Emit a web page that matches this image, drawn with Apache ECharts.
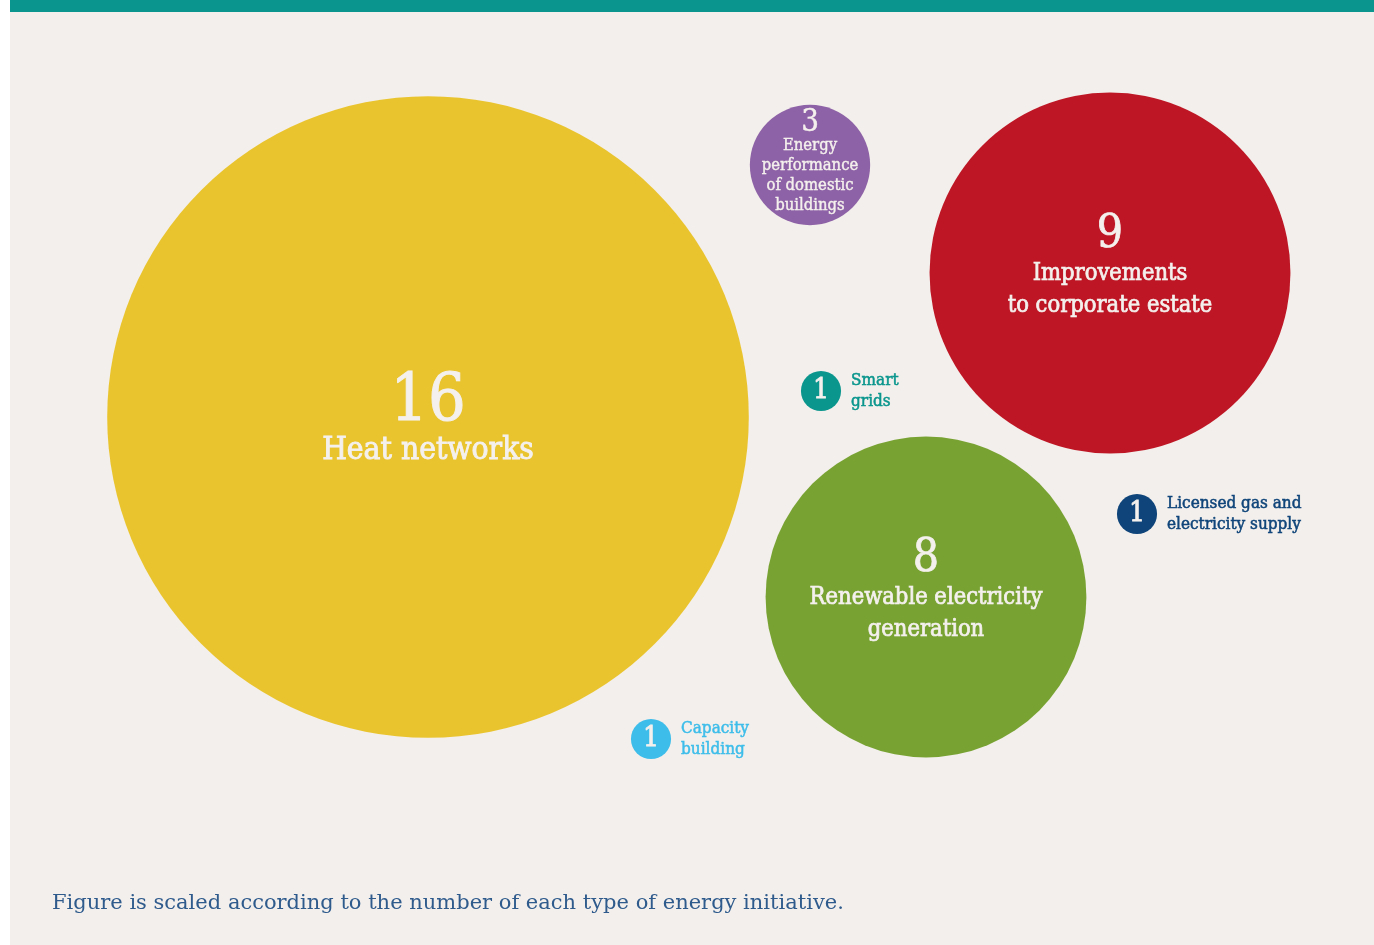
<!DOCTYPE html>
<html>
<head>
<meta charset="utf-8">
<script src="https://cdn.jsdelivr.net/npm/echarts@6/dist/echarts.min.js"></script>
<style>
  html, body { margin: 0; padding: 0; background: #ffffff; }
  #chart { width: 1374px; height: 945px; }
</style>
</head>
<body>
<div id="chart"></div>
<script>
// Energy initiatives by type: bubble radius grows with the count
const categories = [
  'Heat networks',
  'Energy\nperformance\nof domestic\nbuildings',
  'Improvements\nto corporate estate',
  'Smart\ngrids',
  'Renewable electricity\ngeneration',
  'Licensed gas and\nelectricity supply',
  'Capacity\nbuilding'
];
const counts = [16, 3, 9, 1, 8, 1, 1];
// bubble centres in layout units (1 unit = 1 px of the drawing area)
const posX = [428, 810, 1110, 821, 926, 1137, 651];
const posY = [417, 165, 273, 391, 597, 514, 739];
const colors = ['#eac42e', '#8e62a6', '#be1624', '#0a968d', '#78a333', '#0e4479', '#3dbdea'];
const caption = 'Figure is scaled according to the number of each type of energy initiative.';

const FONT = "'DejaVu Serif Condensed', 'DejaVu Serif'";
const FONT_CAPTION = "'DejaVu Serif'";
const LIGHT = '#f4f0ed';
const DIAMETER_PER_UNIT = 40.1;

// Big bubbles get their count and name inside; single-count bubbles get a side label
const big = [], small = [];
counts.forEach((c, i) => {
  const item = { name: categories[i], value: [posX[i], posY[i], c], itemStyle: { color: colors[i], opacity: 1 } };
  if (c >= 3) big.push(item); else small.push(item);
});

function insideStyle(c) {
  if (c >= 16) return { n: 66, t: 31.5, nl: 62, tl: 34, off: 3, sw: 0.9 };
  if (c >= 8) return { n: 46, t: 23.5, nl: 46, tl: 32, off: -6, sw: 0.7 };
  return { n: 31, t: 16.5, nl: 26, tl: 20, off: -2, sw: 0.4 };
}

const chart = echarts.init(document.getElementById('chart'), null, { renderer: 'canvas' });
chart.setOption({
  backgroundColor: '#ffffff',
  animation: false,
  graphic: [
    { type: 'rect', z: -10, shape: { x: 10, y: 0, width: 1364, height: 945 }, style: { fill: '#f3efec' } },
    { type: 'rect', z: -9, shape: { x: 10, y: 0, width: 1364, height: 12 }, style: { fill: '#0a968e' } }
  ],
  title: {
    text: caption,
    left: 47, top: 888,
    textStyle: { fontFamily: FONT_CAPTION, fontSize: 21, fontWeight: 'normal', color: '#2e5a8c' }
  },
  grid: { left: 0, right: 0, top: 0, bottom: 0 },
  xAxis: { type: 'value', min: 0, max: 1374, show: false },
  yAxis: { type: 'value', min: 0, max: 945, inverse: true, show: false },
  series: [
    {
      type: 'scatter',
      symbol: 'circle',
      symbolSize: v => v[2] * DIAMETER_PER_UNIT,
      data: big.map(d => {
        const s = insideStyle(d.value[2]);
        return Object.assign({}, d, {
          label: {
            show: true,
            position: 'inside',
            offset: [0, s.off],
            formatter: p => '{n|' + p.value[2] + '}\n{t|' + p.name.split('\n').join('}\n{t|') + '}',
            rich: {
              n: { fontFamily: FONT, fontSize: s.n, lineHeight: s.nl, color: LIGHT, align: 'center',
                   textBorderColor: LIGHT, textBorderWidth: s.sw },
              t: { fontFamily: FONT, fontSize: s.t, lineHeight: s.tl, color: LIGHT, align: 'center',
                   textBorderColor: LIGHT, textBorderWidth: s.sw }
            }
          }
        });
      }),
      emphasis: { disabled: true },
      silent: true
    },
    {
      type: 'scatter',
      symbol: 'circle',
      symbolSize: v => v[2] * DIAMETER_PER_UNIT,
      data: small,
      label: {
        show: true,
        position: 'inside',
        formatter: p => String(p.value[2]),
        fontFamily: FONT, fontSize: 28, color: LIGHT,
        textBorderColor: LIGHT, textBorderWidth: 0.8
      },
      emphasis: { disabled: true },
      silent: true
    },
    {
      // side captions for the single-count bubbles
      type: 'scatter',
      symbol: 'circle',
      symbolSize: v => v[2] * DIAMETER_PER_UNIT,
      data: small.map(d => Object.assign({}, d, {
        itemStyle: { color: 'rgba(0,0,0,0)', opacity: 1 },
        label: {
          show: true, position: 'right', distance: 10,
          formatter: p => p.name,
          fontFamily: FONT, fontSize: 17, lineHeight: 21,
          color: d.itemStyle.color,
          textBorderColor: d.itemStyle.color, textBorderWidth: 0.5
        }
      })),
      emphasis: { disabled: true },
      silent: true
    }
  ]
});
</script>
</body>
</html>
